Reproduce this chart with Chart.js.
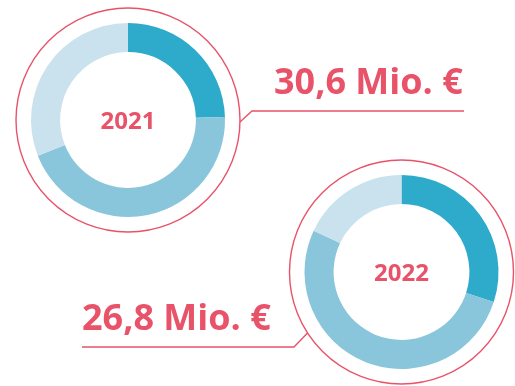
<!DOCTYPE html>
<html>
<head>
<meta charset="utf-8">
<script src="https://cdn.jsdelivr.net/npm/chart.js@4.4.0/dist/chart.umd.min.js"></script>
<style>
  html, body { margin: 0; padding: 0; background: #fff; }
  #wrap { position: relative; width: 515px; height: 386px; }
  #wrap canvas { position: absolute; left: 0; top: 0; }
</style>
</head>
<body>
<div id="wrap">
  <canvas id="donut2021" width="515" height="386"></canvas>
  <canvas id="donut2022" width="515" height="386"></canvas>
</div>
<script>
"use strict";

// shares per year, clockwise from 12 o'clock
var years = ['2021', '2022'];
var totals = ['30,6 Mio. €', '26,8 Mio. €'];
var segments = ['A', 'B', 'C'];
var shares2021 = [24.5, 44.5, 31];
var shares2022 = [30, 52, 18];

var segmentColors = ['#2eabcb', '#89c6db', '#c9e2ed'];
var red = '#e8536a';
var fontFamily = '"Open Sans", sans-serif';

// ring, year label and callout drawn around each doughnut
var ringPlugin = {
    id: 'ring',
    afterDraw: function (chart) {
        var opts = chart.options.plugins.ring;
        var arc = chart.getDatasetMeta(0).data[0];
        var cx = arc.x, cy = arc.y;
        var r = arc.outerRadius + 15;
        var c = chart.ctx;
        c.save();

        c.strokeStyle = red;
        c.lineWidth = 1.4;
        c.beginPath();
        c.arc(cx, cy, r, 0, Math.PI * 2);
        c.stroke();

        c.fillStyle = red;
        c.font = 'bold 24px ' + fontFamily;
        c.textAlign = 'center';
        c.textBaseline = 'alphabetic';
        c.fillText(opts.year, cx, cy + 9);

        // callout: from the ring out to an underline below the total
        var a = opts.angle * Math.PI / 180;
        var px = cx + Math.sin(a) * r, py = cy - Math.cos(a) * r;
        c.beginPath();
        c.moveTo(px, py);
        c.lineTo(opts.elbow[0], opts.elbow[1]);
        c.lineTo(opts.lineEnd, opts.elbow[1]);
        c.stroke();

        c.font = 'bold 36px ' + fontFamily;
        c.textAlign = 'left';
        c.fillText(opts.total, opts.textX, opts.elbow[1] - 17);
        c.restore();
    }
};

function makeDonut(id, year, data, padding, callout) {
    var ctx = document.getElementById(id);
    return new Chart(ctx, {
        type: 'doughnut',
        data: {
            labels: segments,
            datasets: [{
                data: data,
                backgroundColor: segmentColors,
                borderWidth: 0,
                hoverOffset: 0
            }]
        },
        options: {
            responsive: false,
            animation: false,
            cutout: '70%',
            layout: { padding: padding },
            events: [],
            plugins: {
                legend: { display: false },
                tooltip: { enabled: false },
                ring: {
                    year: year,
                    total: callout.total,
                    angle: callout.angle,
                    elbow: callout.elbow,
                    lineEnd: callout.lineEnd,
                    textX: callout.textX
                }
            }
        },
        plugins: [ringPlugin]
    });
}

makeDonut('donut2021', years[0], shares2021,
    { left: 31, right: 290, top: 23, bottom: 169 },
    { total: totals[0], angle: 91, elbow: [252, 111], lineEnd: 464, textX: 274 });

makeDonut('donut2022', years[1], shares2022,
    { left: 303, right: 15, top: 175, bottom: 17 },
    { total: totals[1], angle: 237, elbow: [294, 347], lineEnd: 82, textX: 82 });
</script>
</body>
</html>
